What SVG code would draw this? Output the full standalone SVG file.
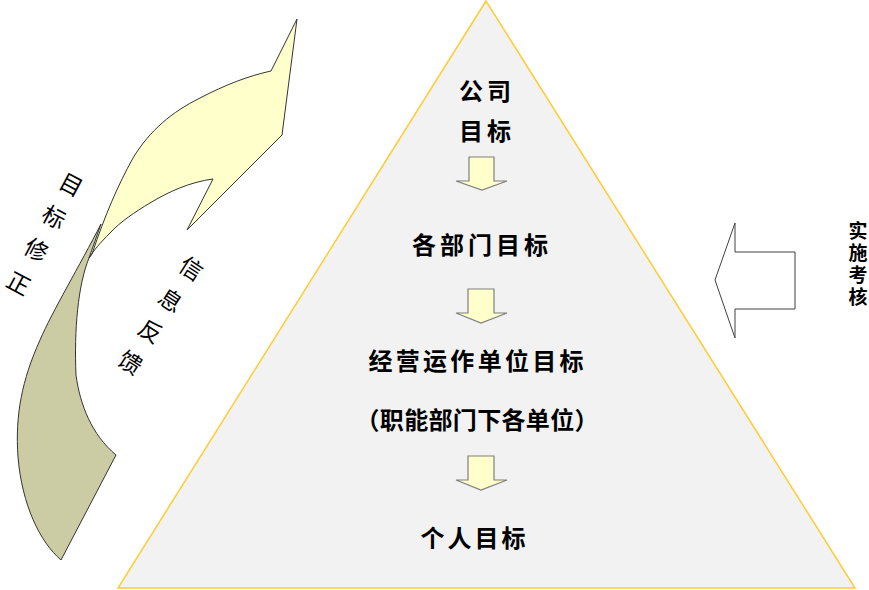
<svg xmlns="http://www.w3.org/2000/svg" width="869" height="590" viewBox="0 0 869 590">
<style>
.tri{fill:#F2F2F2;stroke:#FFCC33;stroke-width:1.5}
.t{font-family:"Liberation Sans","Noto Sans CJK SC",sans-serif;font-size:24px;font-weight:bold;fill:#000;text-anchor:middle}
.r{font-family:"Liberation Sans","Noto Sans CJK SC",sans-serif;font-size:23px;fill:#000;text-anchor:middle;dominant-baseline:central}
.v{font-family:"Liberation Sans","Noto Sans CJK SC",sans-serif;font-size:19px;font-weight:bold;fill:#000;text-anchor:middle;dominant-baseline:central}
.da{fill:#FFFFCC;stroke:#7F7F7F;stroke-width:1.2}
</style>
<rect width="869" height="590" fill="#FFFFFF"/>
<g id="pyramid">
<polygon class="tri" points="486,1 118,588 855,588"/>
</g>
<g id="company-goal">
<text class="t" x="485" y="100" textLength="52" lengthAdjust="spacing">公司</text>
<text class="t" x="485" y="140" textLength="52" lengthAdjust="spacing">目标</text>
</g>
<g id="dept-goal">
<text class="t" x="480" y="254" textLength="136" lengthAdjust="spacing">各部门目标</text>
</g>
<g id="unit-goal">
<text class="t" x="476" y="370" textLength="215" lengthAdjust="spacing">经营运作单位目标</text>
<text class="t" x="477" y="429" textLength="243" lengthAdjust="spacing">（职能部门下各单位）</text>
</g>
<g id="personal-goal">
<text class="t" x="473" y="547" textLength="105" lengthAdjust="spacing">个人目标</text>
</g>
<g id="connectors">
<path class="da" d="M469,157 L494,157 L494,181 L507,181 L482,190 L456,181 L469,181 Z"/>
<path class="da" d="M468,289 L494,289 L494,313 L507,313 L481,323 L456,313 L468,313 Z"/>
<path class="da" d="M468,456 L494,456 L494,480 L507,480 L481,490 L456,480 L468,480 Z"/>
</g>
<g id="feedback-arrow">
<path fill="#CCCCA4" stroke="#333" stroke-width="1" d="M61,560 C40,542 22,505 18,457 C15,415 22,380 40,340 C52,312 80,265 101,224 L89,258 C78,285 74,330 76,375 C80,405 92,435 116,455 Z"/>
<path fill="#FFFFCC" stroke="#333" stroke-width="1" d="M92,254 C105,215 118,185 133,158 C150,130 172,112 200,98 C225,85 248,76 271,71 L297,19 L282,135 L187,230 L213,179 C190,182 168,192 150,203 C135,212 120,222 110,233 C100,243 94,250 89,258 Z"/>
</g>
<g id="label-target-correction" transform="translate(71,185) rotate(28)">
<text class="r" x="0" y="0">目</text>
<text class="r" x="0" y="37">标</text>
<text class="r" x="0" y="74">修</text>
<text class="r" x="0" y="112">正</text>
</g>
<g id="label-feedback" transform="translate(191,269) rotate(33)">
<text class="r" x="0" y="0">信</text>
<text class="r" x="0" y="38">息</text>
<text class="r" x="0" y="75">反</text>
<text class="r" x="0" y="112">馈</text>
</g>
<g id="implement-arrow">
<path fill="#FFFFFF" stroke="#404040" stroke-width="1" d="M715,280 L735,223 L735,252 L795,252 L795,309 L735,309 L735,338 Z"/>
</g>
<g id="label-implement">
<text class="v" x="858" y="231">实</text>
<text class="v" x="858" y="253">施</text>
<text class="v" x="858" y="275">考</text>
<text class="v" x="858" y="297">核</text>
</g>
</svg>
